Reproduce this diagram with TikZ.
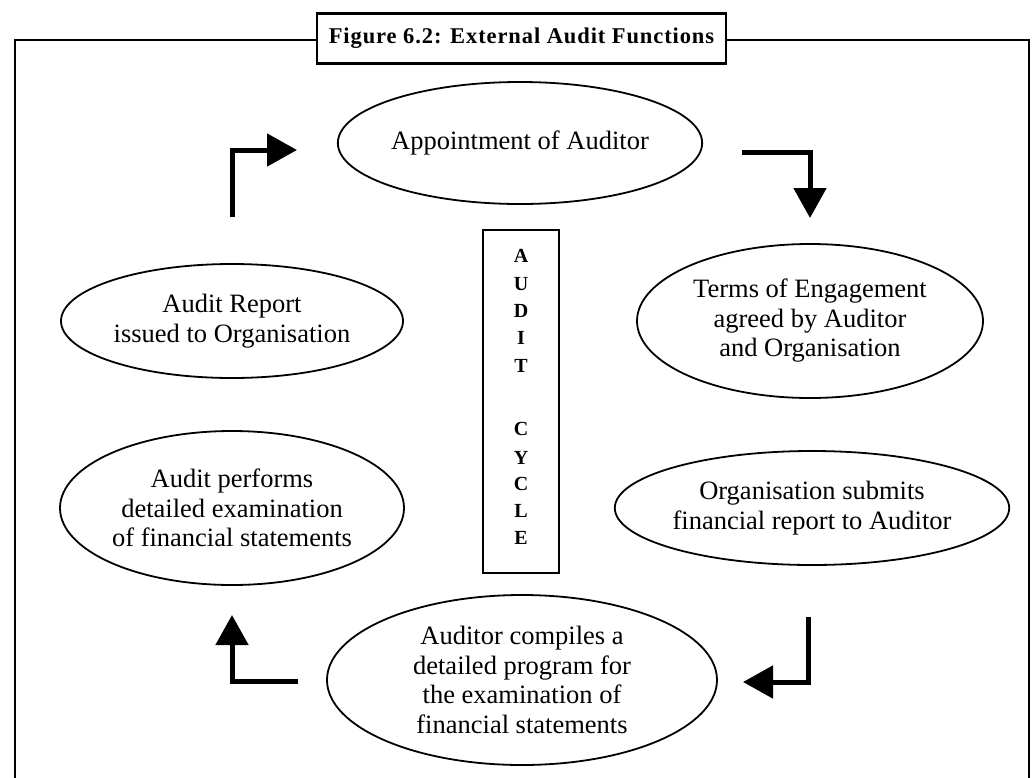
\documentclass[tikz,border=0pt]{standalone}
\usepackage{fontspec}
\setmainfont{Liberation Serif}
\newfontfamily\titlefont[LetterSpace=4]{Liberation Serif}
\usetikzlibrary{shapes.geometric,arrows.meta}
\tikzset{
  stage/.style={draw, ellipse, line width=1.8pt, inner sep=0pt, align=center,
    font=\fontsize{26.5}{29.5}\selectfont},
  framebox/.style={line width=2.6pt},
  bigarrow/.style={line width=5pt, -{Triangle[length=30pt,width=32pt]}},
}
\begin{document}
\begin{tikzpicture}[x=1pt,y=-1pt]
\useasboundingbox (0,0) rectangle (1034,777);
% frame
\coordinate (fl) at (15,779);
\coordinate (ftl) at (15,40);
\coordinate (ftr) at (1029,40);
\coordinate (fr) at (1029,779);
\draw[framebox] (fl) -- (ftl) -- (ftr) -- (fr);
\node[draw, fill=white, line width=2.6pt, minimum width=409pt, minimum height=50pt,
  inner sep=0pt, font=\titlefont\fontsize{22.5}{26}\selectfont\bfseries] (title) at (521.5,38.5)
  {Figure 6.2: External Audit Functions};
% stages
\node[stage, minimum width=346pt, minimum height=122pt] (appoint) at (520,143) {Appointment of Auditor};
\node[stage, minimum width=346pt, minimum height=154pt] (terms) at (810,321) {Terms of Engagement\\agreed by Auditor\\and Organisation};
\node[stage, minimum width=336pt, minimum height=114pt] (submit) at (812,508) {Organisation submits\\financial report to Auditor};
\node[stage, minimum width=390pt, minimum height=170pt] (compile) at (522,680) {Auditor compiles a\\detailed program for\\the examination of\\financial statements};
\node[stage, minimum width=344pt, minimum height=154pt] (perform) at (232,508) {Audit performs\\detailed examination\\of financial statements};
\node[stage, minimum width=342pt, minimum height=114pt] (report) at (232,321) {Audit Report\\issued to Organisation};
% audit cycle box
\node[draw, line width=2.2pt, minimum width=76pt, minimum height=343pt, inner sep=0pt] (cycle) at (521,401.5) {};
\foreach \ch/\yy in {A/255,U/283,D/310,I/337,T/365,C/428,Y/457,C/483,L/510,E/537}{
  \node[font=\fontsize{20}{24}\selectfont\bfseries, inner sep=0pt, anchor=base] at (521,\yy+7) {\ch};
}
% arrows
\coordinate (a1s) at (232,217); \coordinate (a1c) at (232,150); \coordinate (a1e) at (297,150);
\coordinate (a2s) at (742,152); \coordinate (a2c) at (810,152); \coordinate (a2e) at (810,218);
\coordinate (a3s) at (808,617); \coordinate (a3c) at (808,682); \coordinate (a3e) at (743,682);
\coordinate (a4s) at (298,681); \coordinate (a4c) at (232,681); \coordinate (a4e) at (232,615);
\draw[bigarrow] (a1s) -- (a1c) -- (a1e);
\draw[bigarrow] (a2s) -- (a2c) -- (a2e);
\draw[bigarrow] (a3s) -- (a3c) -- (a3e);
\draw[bigarrow] (a4s) -- (a4c) -- (a4e);
\end{tikzpicture}
\end{document}
